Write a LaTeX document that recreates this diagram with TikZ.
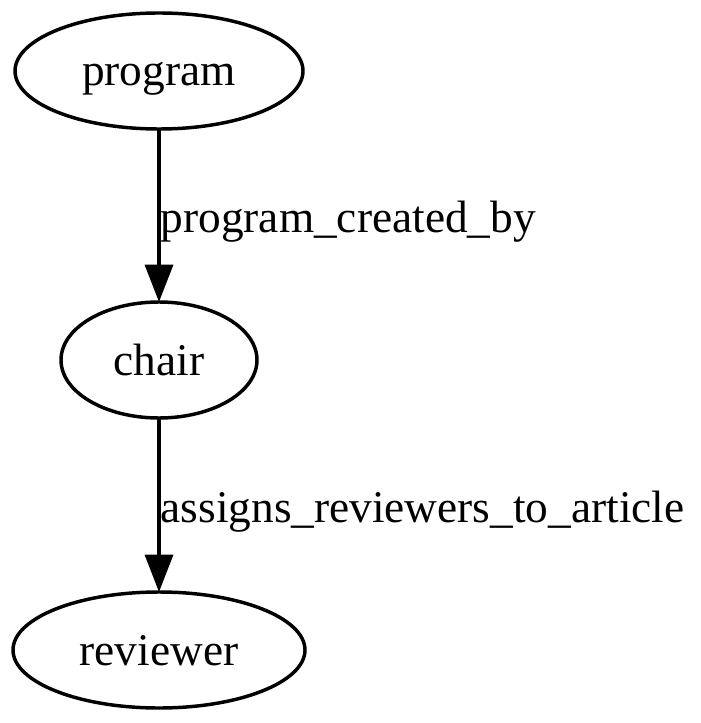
\documentclass[tikz,border=0pt]{standalone}
\usepackage{fontspec}
\setmainfont{Liberation Serif}
\usepackage{tikz}
\usetikzlibrary{shapes.geometric}
\usetikzlibrary{arrows.meta}

\begin{document}
\begin{tikzpicture}[x=0.75pt,y=-0.75pt,
	entity/.style={ellipse, draw, line width=2.6pt, inner sep=0, outer sep=0, text height=26pt, text depth=3.5pt, font=\fontsize{34pt}{40pt}\selectfont},
	relation/.style={line width=2.6pt, -{Triangle[length=28pt,width=21pt]}},
	rellabel/.style={pos=0.6, anchor=base west, inner sep=0, font=\fontsize{34pt}{40pt}\selectfont}]
	\useasboundingbox (0,0) rectangle (700,723);
	\node[entity, minimum width=216pt, minimum height=87pt] (program) at (159,71) {program};
	\node[entity, minimum width=147pt, minimum height=87pt] (chair) at (159,360) {chair};
	\node[entity, minimum width=219pt, minimum height=87pt] (reviewer) at (159,650) {reviewer};
	\draw[relation] (program) -- (chair) node[rellabel] {program\_created\_by};
	\draw[relation] (chair) -- (reviewer) node[rellabel] {assigns\_reviewers\_to\_article};
\end{tikzpicture}
\end{document}
